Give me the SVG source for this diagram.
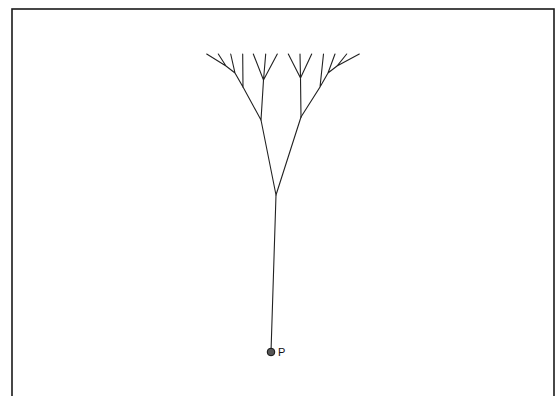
<svg xmlns="http://www.w3.org/2000/svg" width="555" height="396" viewBox="0 0 555 396">
<style>
.frame{fill:none;stroke:#1a1a1a;stroke-width:1.6}
.br{stroke:#222;stroke-width:1.1;fill:none;stroke-linecap:round}
.pt{fill:#555;stroke:#111;stroke-width:1}
.lbl{font-family:"Liberation Sans",Arial,sans-serif;font-size:11px;fill:#111}
</style>
<rect width="555" height="396" fill="#fff"/>
<rect class="frame" x="12" y="9" width="542" height="400"/>
<g id="connectors">
<path class="br" d="M271,352 L276,195"/>
<path class="br" d="M276,195 L261,120 M276,195 L301,117"/>
<path class="br" d="M261,120 L243,87 M261,120 L263.5,80"/>
<path class="br" d="M263.5,80 L253.3,54 M263.5,80 L265.7,54 M263.5,80 L277.3,54"/>
<path class="br" d="M243,87 L242.7,54 M243,87 L235,73 L230.7,54 M235,73 L226,66 L206.7,54 M226,66 L218.3,54"/>
<path class="br" d="M301,117 L300.5,78 M300.5,78 L288.3,54 M300.5,78 L300,54 M300.5,78 L311.7,54"/>
<path class="br" d="M301,117 L320,87 L323.5,54 M320,87 L328,73 L335,54 M328,73 L337,66 L346.7,54 M337,66 L359.3,54"/>
</g>
<g id="P">
<circle class="pt" cx="271" cy="352" r="3.8"/>
<text class="lbl" x="278" y="356">P</text>
</g>
</svg>
